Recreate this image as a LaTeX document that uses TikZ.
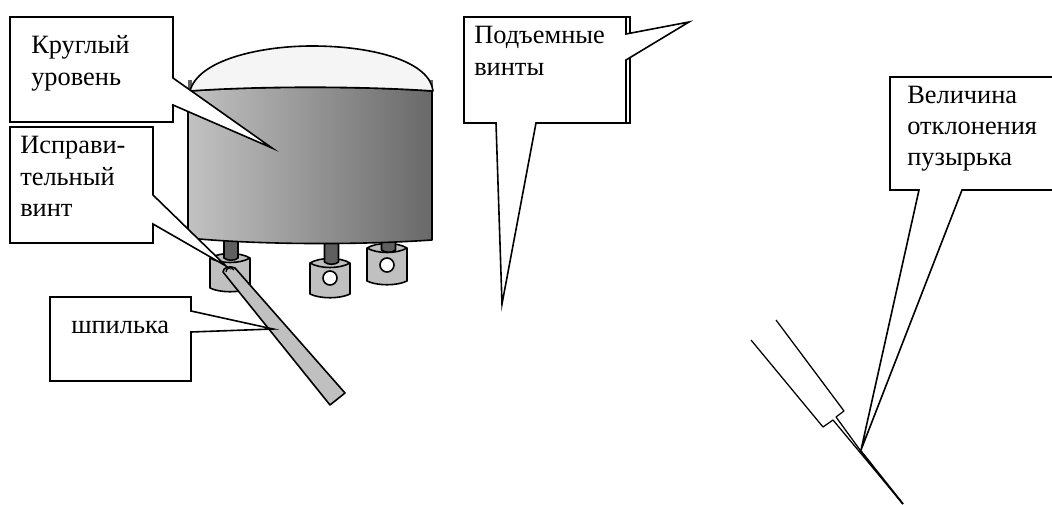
\documentclass[tikz,border=0pt]{standalone}
\usepackage{fontspec}
\setmainfont{Liberation Serif}
\tikzset{
  callout/.style={draw=black,fill=white,line width=1.2pt,line join=miter},
  part/.style={draw=black,line width=1.2pt,line join=round},
  thin part/.style={draw=black,line width=0.95pt,line join=round},
  label text/.style={anchor=base west,inner sep=0pt,font=\fontsize{19.8}{24}\selectfont}
}
\definecolor{footgray}{HTML}{C0C0C0}
\definecolor{postgray}{HTML}{5F5F5F}
\definecolor{bodyleft}{HTML}{C2C2C2}
\definecolor{bodyright}{HTML}{696969}
\newcommand{\footshape}[3]{%
  \path[part,fill=footgray] (#1-20,#2) -- (#1-20,#3) .. controls (#1-10,#3+5) and (#1+10,#3+5) .. (#1+20,#3) -- (#1+20,#2) .. controls (#1+10,#2-6) and (#1-10,#2-6) .. (#1-20,#2) -- cycle;
  \path[part] (#1-20,#2) .. controls (#1-10,#2+6) and (#1+10,#2+6) .. (#1+20,#2);
}
\newcommand{\postshape}[2]{%
  \path[part,fill=postgray] (#1-7,238) -- (#1-7,#2) .. controls (#1-4,#2+3) and (#1+4,#2+3) .. (#1+7,#2) -- (#1+7,238) -- cycle;
}
\begin{document}
\begin{tikzpicture}[x=0.75pt,y=-0.75pt]
\useasboundingbox (0,0) rectangle (1052,505);
% small dark bits behind the dome
\fill[postgray] (188,80) rectangle (192,92);
\fill[postgray] (429,80) rectangle (432.5,92);
% feet
\footshape{230}{258}{288}
\footshape{330}{263}{294}
\footshape{387}{248}{281}
\path[part,fill=white] (330,278) circle[radius=7];
\path[part,fill=white] (387,265) circle[radius=7];
% posts
\postshape{231}{258}
\postshape{331.5}{262}
\postshape{388.5}{250}
% body
\path[part,left color=bodyleft,right color=bodyright] (188,91) .. controls (260,86) and (360,86) .. (432,91) -- (432,240) .. controls (360,245) and (260,245) .. (188,238) -- cycle;
% dome
\path[part,fill=white!96!black] (190,91) .. controls (198,60) and (260,46) .. (312,46) .. controls (375,46) and (430,62) .. (433,91) .. controls (360,86) and (260,86) .. (190,91) -- cycle;
% pin
\path[part,fill=footgray] (223,272) .. controls (223,268) and (229,265) .. (235,268) -- (345,393) -- (330,405) -- cycle;
\path[thin part] (226,272) .. controls (226,268) and (231,266) .. (234,270);
% callouts
\path[callout] (10,17) -- (173,17) -- (173,78) -- (272,148) -- (173,105) -- (173,122) -- (10,122) -- cycle;
\path[callout] (10,127) -- (153,127) -- (153,195) -- (226,266) -- (153,224) -- (153,243) -- (10,243) -- cycle;
\path[callout] (50,297) -- (191,297) -- (191,311) -- (273,329) -- (191,332) -- (191,381) -- (50,381) -- cycle;
\path[callout] (468,17) rectangle (630,123);
\path[callout] (464,17) -- (626,17) -- (626,34) -- (689,22) -- (626,60) -- (626,123) -- (536,123) -- (502,304) -- (496,123) -- (464,123) -- cycle;
\path[callout] (1054,77) -- (890,77) -- (890,190) -- (919,190) -- (861,450) -- (962,190) -- (1054,190);
% bubble deviation sketch
\path[thin part] (751,340) -- (823,427) -- (833,420) -- (903,504);
\path[thin part] (776,320) -- (844,411) -- (836,417) -- (860,450);
\draw[line width=1.4pt] (860,450) -- (903,504);
% labels
\node[label text] (kr1) at (31,54) {Круглый};
\node[label text] (kr2) at (31,86) {уровень};
\node[label text] (is1) at (20,154) {Исправи-};
\node[label text] (is2) at (20,185.5) {тельный};
\node[label text] (is3) at (20,217) {винт};
\node[label text] (sh) at (71,334) {шпилька};
\node[label text] (po1) at (474,44) {Подъемные};
\node[label text] (po2) at (474,76) {винты};
\node[label text] (ve1) at (907,104) {Величина};
\node[label text] (ve2) at (907,135) {отклонения};
\node[label text] (ve3) at (907,166) {пузырька};
\end{tikzpicture}
\end{document}
